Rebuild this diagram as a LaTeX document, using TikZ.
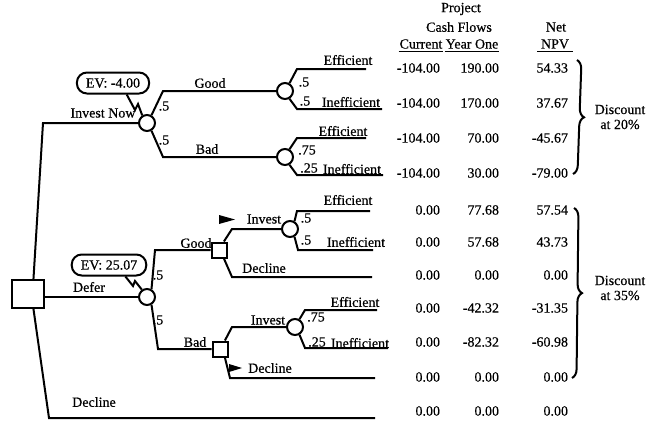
\documentclass[tikz,border=0pt]{standalone}
\usepackage{fontspec}
\setmainfont{Liberation Serif}[FakeBold=0.5]
\usetikzlibrary{decorations.pathreplacing}
\begin{document}
\begin{tikzpicture}[x=1pt,y=-1pt,line width=2pt,
  every node/.style={font=\fontsize{14pt}{15pt}\selectfont,inner sep=0pt},
  chance/.style={draw,circle,minimum size=16pt,inner sep=0pt},
  decision/.style={draw,rectangle,minimum size=15pt,inner sep=0pt},
  evbox/.style={draw,rounded corners=10pt,minimum height=21pt,inner xsep=9pt,inner ysep=2pt},
  num/.style={anchor=east},
  hdr/.style={inner xsep=0pt,inner ysep=2pt},
  under/.style={line width=1.2pt},
  flag/.style={fill=black,line width=0.4pt},
  bracedeco/.style={decorate,decoration={brace,amplitude=9pt},line width=2pt},
  note/.style={align=center}
]
\useasboundingbox (0,0) rectangle (664,421);

% ---------- decision and chance nodes ----------
\node[draw,minimum width=32pt,minimum height=28pt,inner sep=0pt] (root) at (28,294) {};
\node[chance] (cInv)  at (147,123) {};
\node[chance] (cGood) at (285,91) {};
\node[chance] (cBad)  at (285,157) {};
\node[chance] (cDef)  at (147,297) {};
\node[decision] (dGood) at (219,250) {};
\node[decision] (dBad)  at (220,349) {};
\node[chance] (cGinv) at (290,229) {};
\node[chance] (cBinv) at (295,327) {};

% ---------- bend points and branch ends ----------
\coordinate (bInv) at (43,123);
\coordinate (bDec) at (49,418);
\coordinate (eDec) at (375,418);
\coordinate (bIG) at (163,91);
\coordinate (bIB) at (163,157);
\coordinate (bGE) at (297,69);   \coordinate (eGE) at (366,69);
\coordinate (bGI) at (297,109);  \coordinate (eGI) at (382,109);
\coordinate (bBE) at (297,138);  \coordinate (eBE) at (366,138);
\coordinate (bBI) at (297,175);  \coordinate (eBI) at (383,175);
\coordinate (bDG) at (155,250);
\coordinate (bDB) at (158,349);
\coordinate (bGIv) at (232,229);
\coordinate (bGDc) at (232,277); \coordinate (eGDc) at (372,277);
\coordinate (bGiE) at (297,211); \coordinate (eGiE) at (370,211);
\coordinate (bGiI) at (298,250); \coordinate (eGiI) at (373,250);
\coordinate (bBIv) at (232,327);
\coordinate (bBDc) at (230,378); \coordinate (eBDc) at (375,378);
\coordinate (bBiE) at (305,310); \coordinate (eBiE) at (377,310);
\coordinate (bBiI) at (305,348); \coordinate (eBiI) at (388,348);

% ---------- connectors ----------
\draw (root.70) -- (bInv) -- (cInv.west);
\draw (cDef.west -| root.east) -- (cDef.west);
\draw (root.-70) -- (bDec) -- (eDec);
\draw (cInv.60) -- (bIG) -- (cGood.west);
\draw (cInv.-60) -- (bIB) -- (cBad.west);
\draw (cGood.60) -- (bGE) -- (eGE);
\draw (cGood.-60) -- (bGI) -- (eGI);
\draw (cBad.60) -- (bBE) -- (eBE);
\draw (cBad.-60) -- (bBI) -- (eBI);
\draw (cDef.60) -- (bDG) -- (dGood.west);
\draw (cDef.-60) -- (bDB) -- (dBad.west);
\draw (dGood.60) -- (bGIv) -- (cGinv.west);
\draw (dGood.-60) -- (bGDc) -- (eGDc);
\draw (cGinv.60) -- (bGiE) -- (eGiE);
\draw (cGinv.-60) -- (bGiI) -- (eGiI);
\draw (dBad.60) -- (bBIv) -- (cBinv.west);
\draw (dBad.-60) -- (bBDc) -- (eBDc);
\draw (cBinv.60) -- (bBiE) -- (eBiE);
\draw (cBinv.-60) -- (bBiI) -- (eBiI);

% ---------- expected value boxes ----------
\node[evbox] (evInv) at (113,83) {EV: -4.00};
\node[evbox] (evDef) at (109,265) {EV: 25.07};
\coordinate (zI1) at (135,110); \coordinate (zI2) at (138,104);
\coordinate (zD1) at (133,286); \coordinate (zD2) at (135,281);
\draw (evInv.-40) -- (zI1) -- (zI2) -- (cInv.122);
\draw (evDef.-35) -- (zD1) -- (zD2) -- (cDef.125);

% ---------- flags ----------
\fill[flag] (219,215) -- (235,219.5) -- (219,224) -- cycle;
\fill[flag] (229,364) -- (242,368) -- (229,372) -- cycle;

% ---------- branch labels ----------
\node (lInvNow) at (103,113) {Invest Now};
\node (lDefer)  at (89,287) {Defer};
\node (lDecR)   at (94,402) {Decline};
\node (lGood1)  at (210,83) {Good};
\node (lBad1)   at (207,149) {Bad};
\node (pI1) at (164,106) {.5};
\node (pI2) at (164,140) {.5};
\node (lE1) at (348,60) {Efficient};
\node (pG1) at (304,82) {.5};
\node (pG2) at (305,101) {.5};
\node (lI1) at (351,102) {Inefficient};
\node (lE2) at (343,131) {Efficient};
\node (pB1) at (307,150) {.75};
\node (pB2) at (309,168) {.25};
\node (lI2) at (352,169) {Inefficient};
\node (pD1) at (158,275) {.5};
\node (pD2) at (158,320) {.5};
\node (lGood2) at (196,243) {Good};
\node (lBad2)  at (195,342) {Bad};
\node (lInv1) at (264,219) {Invest};
\node (lE3) at (348,200) {Efficient};
\node (pGi1) at (306,218) {.5};
\node (pGi2) at (306,240) {.5};
\node (lI3) at (356,242) {Inefficient};
\node (lDec1) at (264,268) {Decline};
\node (lInv2) at (268,320) {Invest};
\node (lE4) at (355,302) {Efficient};
\node (pBi1) at (316,317) {.75};
\node (pBi2) at (317,342) {.25};
\node (lI4) at (360,343) {Inefficient};
\node (lDec2) at (270,368) {Decline};

% ---------- table header ----------
\node (hProj) at (461,9) {Project};
\node (hCash) at (459,27) {Cash Flows};
\node (hNet)  at (556,27) {Net};
\node[hdr] (hCur) at (421,44) {Current};
\node[hdr] (hYr)  at (472,44) {Year One};
\node[hdr] (hNpv) at (555,44) {NPV};
\draw[under] (hCur.south west) -- (hCur.south east);
\draw[under] (hYr.south west) -- (hYr.south east);
\draw[under] ([xshift=-3pt]hNpv.south west) -- ([xshift=3pt]hNpv.south east);

% ---------- table values ----------
\foreach \r/\y/\a/\b/\c in {1/68/-104.00/190.00/54.33, 2/103/-104.00/170.00/37.67,
  3/138/-104.00/70.00/-45.67, 4/173/-104.00/30.00/-79.00,
  5/210/0.00/77.68/57.54, 6/242/0.00/57.68/43.73, 7/275/0.00/0.00/0.00,
  8/308/0.00/-42.32/-31.35, 9/342/0.00/-82.32/-60.98, 10/377/0.00/0.00/0.00,
  11/411/0.00/0.00/0.00}{
  \node[num] (cur\r) at (441,\y) {\a};
  \node[num] (yr\r)  at (500,\y) {\b};
  \node[num] (npv\r) at (569,\y) {\c};
}

% ---------- braces ----------
\coordinate (br1t) at (577,60);  \coordinate (br1b) at (573,174);
\coordinate (br2t) at (574,208); \coordinate (br2b) at (572,378);
\draw[bracedeco] (br1t) -- (br1b);
\draw[bracedeco] (br2t) -- (br2b);
\node[note] (d20) at (620,117) {Discount\\at 20\%};
\node[note] (d35) at (620,288) {Discount\\at 35\%};
\end{tikzpicture}
\end{document}
